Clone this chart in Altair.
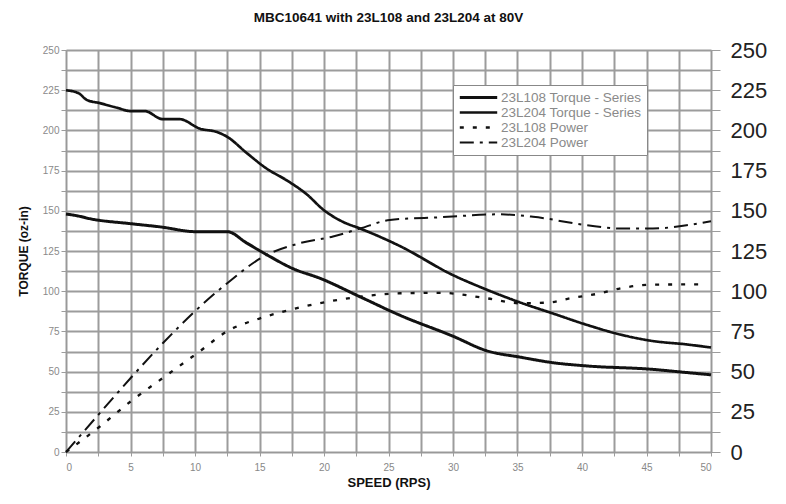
import altair as alt
import pandas as pd

# ---- data ----
series_order = ["23L108 Torque - Series", "23L204 Torque - Series", "23L108 Power", "23L204 Power"]

speed_t204 = [0, 1, 1.6, 2.6, 4, 5, 6.1, 7.5, 8.8, 10.4, 11.7, 12.5, 14, 15.6, 17.1, 18.7, 19.9,
              21.5, 22.8, 25.9, 30, 32.6, 35.2, 37.8, 40.4, 43, 45.5, 48, 50]
torque_204 = [225, 223, 219, 217, 214, 212, 212, 207, 207, 201, 199, 196, 186, 176, 169, 160, 151,
              143, 139, 128, 110, 101, 93, 86, 79, 73, 69, 67, 65]

speed_t108 = [0, 0.8, 1.9, 5, 7.3, 10.1, 12.5, 14, 15.6, 17.6, 19.7, 22.8, 25.9, 30, 32.6, 35.2,
              37.8, 40.4, 45.3, 48, 50]
torque_108 = [148, 147, 145, 142, 140, 137, 137, 130, 122.5, 114, 108, 96.5, 85, 72, 63, 59,
              55.5, 53.5, 51.5, 49.5, 48]

speed_p108 = [0, 2.6, 5.1, 7.5, 10.1, 12.7, 15, 17.9, 21, 22.8, 25.9, 29, 32.6, 35.2, 37.5, 39.1,
              41.4, 43, 45.3, 49.5]
power_108 = [0, 15.7, 32, 46, 61, 76, 83, 89.5, 94.5, 96.6, 98.7, 99, 95.6, 92.5, 93, 95.6,
             98.7, 101.8, 104, 104.3]

speed_p204 = [0, 2.6, 5.1, 7.5, 10.1, 12.5, 15.3, 18.1, 20.7, 22.8, 25.1, 29, 33.6, 36.2, 40.4,
              43, 45.5, 48.1, 50]
power_204 = [0, 24, 46.8, 67.6, 88.3, 105, 121.5, 129.8, 134, 139, 144.3, 146, 147.8, 146.3, 141,
             139, 139, 141, 143.5]

x_ticks = [i * 2.5 for i in range(21)]
y_ticks = [i * 12.5 for i in range(21)]

rows = []
for name, xs, ys in [
    (series_order[0], speed_t108, torque_108),
    (series_order[1], speed_t204, torque_204),
]:
    for x, y in zip(xs, ys):
        rows.append({"series": name, "speed": x, "value": y})
torque_df = pd.DataFrame(rows)

rows = []
for name, xs, ys in [
    (series_order[2], speed_p108, power_108),
    (series_order[3], speed_p204, power_204),
]:
    for x, y in zip(xs, ys):
        rows.append({"series": name, "speed": x, "value": y})
power_df = pd.DataFrame(rows)

FONT = "Liberation Sans"
GRID = "#9c9c9c"

legend = alt.Legend(
    title=None, orient="none", legendX=387, legendY=35,
    fillColor="white", strokeColor="#888", padding=5,
    labelFontSize=13.5, labelColor="#8a8a8a", labelFont=FONT,
    symbolSize=1400, symbolType="stroke", labelOffset=2, rowPadding=0,
    clipHeight=15,
)

color = alt.Color("series:N", scale=alt.Scale(domain=series_order, range=["#111111"] * 4), legend=legend)
dash = alt.StrokeDash("series:N", scale=alt.Scale(domain=series_order,
                      range=[[1, 0], [1, 0], [4, 9], [14, 6, 3, 6]]), legend=legend)
width = alt.StrokeWidth("series:N", scale=alt.Scale(domain=series_order, range=[3, 2, 3.5, 2.5]),
                        legend=legend)

x_enc = alt.X("speed:Q", scale=alt.Scale(domain=[0, 50], nice=False),
              axis=alt.Axis(values=x_ticks, title="SPEED (RPS)",
                            labelExpr="datum.value % 5 == 0 ? datum.label : ''",
                            grid=True, gridColor=GRID, gridWidth=2,
                            tickSize=4, tickColor=GRID, domainColor="#999",
                            labelColor="#888", labelFontSize=10, labelPadding=6,
                            titleFontSize=13, titleFontWeight="bold", titleColor="#111",
                            titlePadding=4, labelFont=FONT, titleFont=FONT))

torque = alt.Chart(torque_df).mark_line(interpolate="monotone").encode(
    x=x_enc,
    y=alt.Y("value:Q", scale=alt.Scale(domain=[0, 250], nice=False),
            axis=alt.Axis(values=y_ticks, title="TORQUE (oz-in)", orient="left",
                          labelExpr="datum.value % 25 == 0 ? datum.label : ''",
                          grid=True, gridColor=GRID, gridWidth=2,
                          tickSize=5, tickColor=GRID, domainColor="#999",
                          labelColor="#8a8a8a", labelFontSize=10, labelPadding=2,
                          titleFontSize=12, titleFontWeight="bold", titleColor="#111",
                          titlePadding=12, labelFont=FONT, titleFont=FONT)),
    color=color, strokeDash=dash, strokeWidth=width,
    order="speed:Q",
)

power = alt.Chart(power_df).mark_line(interpolate="monotone").encode(
    x=x_enc,
    y=alt.Y("value:Q", scale=alt.Scale(domain=[0, 250], nice=False),
            axis=alt.Axis(values=y_ticks, title=None, orient="right",
                          labelExpr="datum.value % 25 == 0 ? datum.label : ''",
                          grid=False, tickSize=9, tickColor=GRID, domainColor="#999",
                          labelColor="#222", labelFontSize=22, labelPadding=10,
                          labelFont=FONT)),
    color=color, strokeDash=dash, strokeWidth=width,
    order="speed:Q",
)

chart = alt.layer(torque, power).resolve_scale(y="independent").properties(
    width=645, height=402,
    autosize=alt.AutoSizeParams(type="none"),
    padding={"left": 58, "top": 42, "right": 60, "bottom": 40},
    title=alt.TitleParams("MBC10641 with 23L108 and 23L204 at 80V", fontSize=13.5,
                          fontWeight="bold", font=FONT, color="#111", offset=15,
                          anchor="middle"),
).configure_view(stroke=None).configure(background="white")

chart.save("out.html", embed_options={"renderer": "svg", "actions": False})
